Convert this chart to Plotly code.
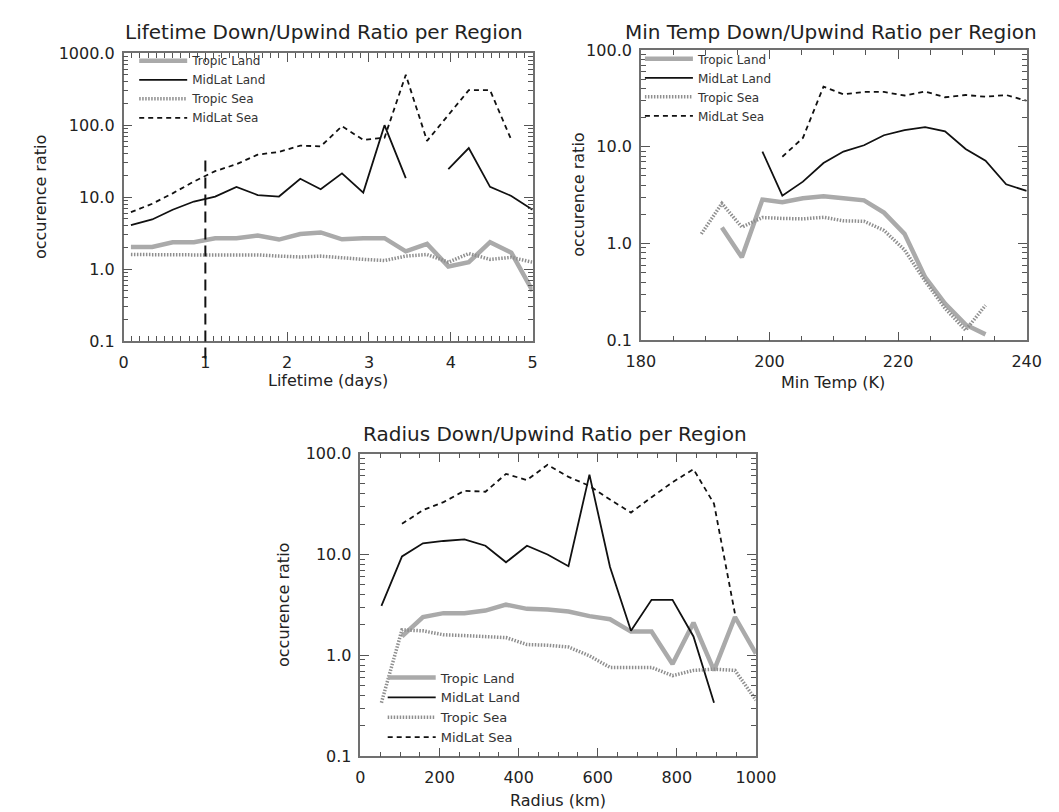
import numpy as np
import plotly.graph_objects as go

# ---------------- data ----------------
series_names = ["Tropic Land", "MidLat Land", "Tropic Sea", "MidLat Sea"]

lifetime_days = [0.09, 0.35, 0.60, 0.86, 1.12, 1.38, 1.64, 1.90, 2.16, 2.41,
                 2.67, 2.93, 3.19, 3.45, 3.71, 3.97, 4.22, 4.48, 4.74, 5.00]
life_tropic_land = [2.03, 2.03, 2.37, 2.37, 2.69, 2.69, 2.93, 2.58, 3.08, 3.24,
                    2.6, 2.7, 2.7, 1.77, 2.25, 1.09, 1.25, 2.37, 1.70, 0.5]
life_midlat_land = [4.1, 4.9, 6.7, 8.7, 10.2, 13.9, 10.7, 10.2, 18.0, 12.9,
                    21.4, 11.6, 100.0, 18.4, None, 24.5, 48.0, 13.9, 10.4, 6.7]
life_tropic_sea = [1.6, 1.58, 1.58, 1.58, 1.58, 1.58, 1.58, 1.52, 1.48, 1.52,
                   1.43, 1.37, 1.32, 1.52, 1.6, 1.25, 1.65, 1.37, 1.46, 1.25]
life_midlat_sea = [6.2, 8.1, 11.3, 16.5, 23.0, 28.7, 39.0, 42.5, 52.0, 50.8,
                   96.6, 62.5, 67.0, 499.0, 60.5, 136.0, 306.0, 306.0, 62.5, None]
lifetime_cutoff_day = 1.0
lifetime_cutoff_top = 36.0

min_temp_k = [189.4, 192.6, 195.7, 198.9, 202.0, 205.2, 208.4, 211.5, 214.7,
              217.8, 221.0, 224.2, 227.3, 230.5, 233.6, 236.8, 240.0]
temp_tropic_land = [None, 1.47, 0.72, 2.85, 2.68, 2.94, 3.08, 2.95, 2.8,
                    2.09, 1.26, 0.45, 0.24, 0.145, 0.115, None, None]
temp_midlat_land = [None, None, None, 8.95, 3.13, 4.37, 6.8, 8.95, 10.4,
                    13.2, 14.9, 16.0, 14.5, 9.5, 7.2, 4.1, 3.5]
temp_tropic_sea = [1.26, 2.6, 1.48, 1.86, 1.82, 1.8, 1.87, 1.72, 1.7,
                   1.37, 0.86, 0.41, 0.214, 0.127, 0.23, None, None]
temp_midlat_sea = [None, None, None, None, 7.9, 12.4, 42.0, 35.0, 37.0,
                   37.0, 34.0, 37.4, 32.6, 34.4, 33.0, 34.4, 30.0]

radius_km = [53, 105, 158, 210, 263, 316, 368, 421, 473, 526,
             579, 631, 684, 736, 789, 842, 894, 947, 1000]
rad_tropic_land = [None, 1.54, 2.4, 2.62, 2.62, 2.78, 3.18, 2.89, 2.85, 2.72,
                   2.45, 2.28, 1.72, 1.72, 0.82, 2.11, 0.71, 2.4, 1.04]
rad_midlat_land = [3.1, 9.55, 12.9, 13.6, 14.1, 12.2, 8.36, 12.2, 10.0, 7.65,
                   61.8, 7.5, 1.75, 3.55, 3.55, 1.54, 0.34, None, None]
rad_tropic_sea = [0.34, 1.79, 1.75, 1.6, 1.57, 1.54, 1.5, 1.28, 1.26, 1.21,
                  0.99, 0.76, 0.76, 0.76, 0.63, 0.71, 0.73, 0.71, 0.36]
rad_midlat_sea = [None, 20.1, 27.5, 33.0, 42.8, 41.8, 62.8, 54.6, 77.3, 58.7,
                  47.8, 35.0, 26.0, 36.9, 52.0, 70.0, 31.8, 2.58, None]

panel_titles = ["Lifetime Down/Upwind Ratio per Region",
                "Min Temp Down/Upwind Ratio per Region",
                "Radius Down/Upwind Ratio per Region"]
x_titles = ["Lifetime (days)", "Min Temp (K)", "Radius (km)"]
y_title = "occurence ratio"

# ---------------- styling ----------------
W, H = 1059, 812
FONT = "DejaVu Sans"
TXT = "#222222"
AXC = "#707070"
TICKC = "#555555"

styles = {
    "Tropic Land": dict(color="#aaaaaa", width=4.5, dash="solid"),
    "MidLat Land": dict(color="#111111", width=1.8, dash="solid"),
    "Tropic Sea": dict(color="#8f8f8f", width=3.5, dash="1.5px,1.5px"),
    "MidLat Sea": dict(color="#111111", width=1.8, dash="5px,4px"),
}

# plot boxes in pixels: left, right, top, bottom
boxes = [(104, 527, 37, 332), (639, 1038, 34, 331), (349, 758, 447, 757)]


def dom(b):
    l, r, t, btm = b
    return [l / W, r / W], [1 - btm / H, 1 - t / H]


fig = go.Figure()

panels = [
    (lifetime_days, [life_tropic_land, life_midlat_land, life_tropic_sea, life_midlat_sea]),
    (min_temp_k, [temp_tropic_land, temp_midlat_land, temp_tropic_sea, temp_midlat_sea]),
    (radius_km, [rad_tropic_land, rad_midlat_land, rad_tropic_sea, rad_midlat_sea]),
]

for p, (xs, ys_list) in enumerate(panels):
    sfx = "" if p == 0 else str(p + 1)
    for name, ys in zip(series_names, ys_list):
        fig.add_trace(go.Scatter(
            x=xs, y=ys, mode="lines", name=name,
            line=styles[name],
            xaxis="x" + sfx, yaxis="y" + sfx,
            legend="legend" + sfx,
            showlegend=True,
        ))

# axis definitions
x_specs = [
    dict(range=[0, 5], dtick=1, minor_dtick=0.1),
    dict(range=[180, 240], dtick=20, minor_dtick=5),
    dict(range=[0, 1000], dtick=200, minor_dtick=50),
]
y_specs = [(-1, 3), (-1, 2), (-1, 2)]

layout = dict(
    width=W, height=H,
    margin=dict(l=0, r=0, t=0, b=0),
    paper_bgcolor="white", plot_bgcolor="white",
    font=dict(family=FONT, color=TXT),
    showlegend=True,
)

for p in range(3):
    sfx = "" if p == 0 else str(p + 1)
    xd, yd = dom(boxes[p])
    xs = x_specs[p]
    lo, hi = y_specs[p]
    layout["xaxis" + sfx] = dict(
        domain=xd, anchor="y" + sfx, range=xs["range"],
        tickmode="linear", tick0=xs["range"][0], dtick=xs["dtick"],
        ticks="inside", ticklen=9, tickwidth=1.3,
        tickcolor=TICKC, showline=True, linecolor=AXC, linewidth=1.5,
        mirror="allticks", showgrid=False, zeroline=False,
        ticklabelstandoff=6,
        tickfont=dict(size=16, family=FONT, color=TXT),
        minor=dict(ticks="inside", ticklen=5, tickwidth=1.2, dtick=xs["minor_dtick"],
                   tick0=xs["range"][0], tickcolor=TICKC, showgrid=False),
    )
    layout["yaxis" + sfx] = dict(
        domain=yd, anchor="x" + sfx, type="log", range=[lo, hi],
        dtick=1, tickformat=".1f", ticks="inside", ticklen=9, tickwidth=1.3,
        tickcolor=TICKC, showline=True, linecolor=AXC, linewidth=1.5,
        mirror="allticks", showgrid=False, zeroline=False,
        ticklabelstandoff=4,
        tickfont=dict(size=16, family=FONT, color=TXT),
        minor=dict(ticks="inside", ticklen=5, tickwidth=1.2, dtick="D1",
                   tickcolor=TICKC, showgrid=False),
    )

# legends (one per panel)
legend_pos = [(115, 30), (638, 28), (372, 661)]
legend_font = [12, 12, 13]
for p in range(3):
    key = "legend" if p == 0 else "legend%d" % (p + 1)
    lx, ly = legend_pos[p]
    layout[key] = dict(
        x=lx / W, y=1 - ly / H, xanchor="left", yanchor="top",
        bgcolor="rgba(0,0,0,0)", borderwidth=0,
        font=dict(size=legend_font[p], family=FONT, color="#333333"),
        itemwidth=48, tracegroupgap=0, traceorder="normal",
    )

fig.update_layout(**layout)

# titles and axis titles as annotations
title_pos = [(311, 15), (836, 15), (550, 427)]
xtitle_pos = [(315, 372), (838, 374), (553, 802)]
ytitle_pos = [(18, 184), (575, 182), (270, 602)]
for p in range(3):
    tx, ty = title_pos[p]
    fig.add_annotation(x=tx / W, y=1 - ty / H, xref="paper", yref="paper",
                       text=panel_titles[p], showarrow=False,
                       font=dict(size=20, family=FONT, color=TXT),
                       xanchor="center", yanchor="middle")
    ax_, ay_ = xtitle_pos[p]
    fig.add_annotation(x=ax_ / W, y=1 - ay_ / H, xref="paper", yref="paper",
                       text=x_titles[p], showarrow=False,
                       font=dict(size=16, family=FONT, color=TXT),
                       xanchor="center", yanchor="middle")
    yx, yy = ytitle_pos[p]
    fig.add_annotation(x=yx / W, y=1 - yy / H, xref="paper", yref="paper",
                       text=y_title, showarrow=False, textangle=-90,
                       font=dict(size=16, family=FONT, color=TXT),
                       xanchor="center", yanchor="middle")

# vertical long-dash marker at 1 day in the lifetime panel
lo, hi = y_specs[0]
top_frac = (np.log10(lifetime_cutoff_top) - lo) / (hi - lo)
fig.add_shape(type="line", xref="x", yref="y domain",
              x0=lifetime_cutoff_day, x1=lifetime_cutoff_day,
              y0=-0.06, y1=top_frac,
              line=dict(color="#111111", width=2, dash="11px,6px"))

fig.write_html("out.html")
